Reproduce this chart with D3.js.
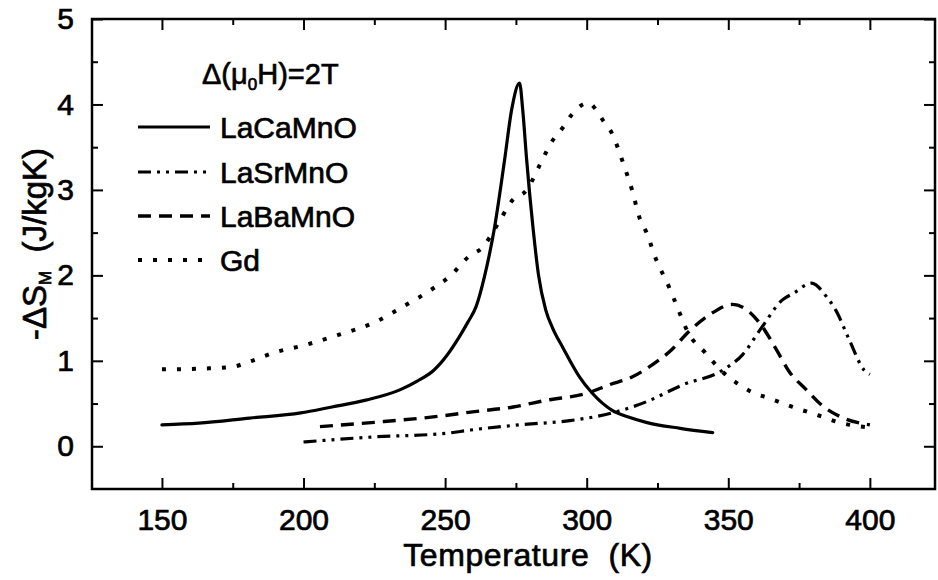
<!DOCTYPE html>
<html><head><meta charset="utf-8">
<script src="https://cdn.jsdelivr.net/npm/d3@7"></script>
<style>
html,body{margin:0;padding:0;background:#fff;}
text{font-family:"Liberation Sans",Arial,sans-serif;fill:#000;stroke:#000;stroke-width:0.7px;}
</style></head>
<body><svg id="chart" width="938" height="580"></svg>
<script>
const xTicks = [150, 200, 250, 300, 350, 400];
const yTicks = [0, 1, 2, 3, 4, 5];
const seriesNames = ["LaCaMnO", "LaSrMnO", "LaBaMnO", "Gd"];
const laCaT = [150,163,181,199,210,222,234,240,246,251,255,258,261,264,267.5,271,273.5,276.3,277.4,278.8,281,283,285.5,288,291.5,297.5,302,309,315,321,333,344.5];
const laCaS = [0.25,0.27,0.33,0.39,0.46,0.54,0.66,0.76,0.89,1.08,1.28,1.45,1.64,2.0,2.57,3.35,3.94,4.25,3.94,3.35,2.57,2.0,1.6,1.38,1.16,0.81,0.62,0.42,0.34,0.28,0.21,0.16];
const laSrT = [200,225,250,259,276,294,309,321,334,348,355,362,369,373,379.4,384.7,388,392.8,398,400];
const laSrS = [0.05,0.11,0.15,0.19,0.25,0.30,0.39,0.52,0.72,0.89,1.07,1.40,1.71,1.79,1.91,1.75,1.59,1.24,0.89,0.84];
const laBaT = [205.8,225,250,259,274,286,300,308,316,323,330,336,343.4,351.5,357.5,362,367,371.6,377.6,383,390,400];
const laBaS = [0.23,0.28,0.36,0.40,0.46,0.54,0.62,0.72,0.81,0.95,1.13,1.34,1.54,1.66,1.57,1.40,1.13,0.87,0.66,0.48,0.34,0.25];
const gdT = [150,165,175,180,190,200,212,225,237,245,252,258.7,263,268.6,273.8,278.8,283.4,287.6,291.6,294.7,298.6,300.5,302.8,306,308.8,312.7,316,318.7,321,324.6,329,331,336,342,348,353,358.6,364.6,372.7,382,389,400];
const gdS = [0.90,0.91,0.93,0.98,1.10,1.18,1.30,1.45,1.67,1.83,2.0,2.23,2.32,2.6,2.88,3.0,3.29,3.56,3.73,3.88,4.0,4.02,3.96,3.8,3.67,3.33,3.0,2.67,2.51,2.18,1.87,1.71,1.32,1.09,0.87,0.74,0.63,0.56,0.46,0.36,0.28,0.22];

const svg = d3.select("#chart");
const L = 92, T = 19, R = 935, B = 489;
const x = d3.scaleLinear().domain([125.3, 423]).range([L, R]);
const y = d3.scaleLinear().domain([-0.5, 5]).range([B, T]);

const styles = [
  {w:3.2, dash:null, cap:"round"},
  {w:3.2, dash:"13,6,3,6,3,6", cap:"butt"},
  {w:3.4, dash:"13,8", cap:"butt"},
  {w:4, dash:"4,11", cap:"butt"}
];
const data = [
  laCaT.map((t,i)=>[t,laCaS[i]]),
  laSrT.map((t,i)=>[t,laSrS[i]]),
  laBaT.map((t,i)=>[t,laBaS[i]]),
  gdT.map((t,i)=>[t,gdS[i]])
];
const line = d3.line().x(d=>x(d[0])).y(d=>y(d[1])).curve(d3.curveMonotoneX);
data.forEach((d,i)=>{
  svg.append("path").attr("d", line(d)).attr("fill","none").attr("stroke","#000")
    .attr("stroke-width", styles[i].w).attr("stroke-dasharray", styles[i].dash)
    .attr("stroke-linecap", styles[i].cap).attr("stroke-linejoin","round");
});

// axes with inner ticks
const xMinor = d3.range(125, 424, 25).filter(v=>v>125.3 && v<423 && xTicks.indexOf(v)<0);
const yMinor = d3.range(-0.5, 5, 1).filter(v=>v>-0.5);
const fmt = d3.format("d");
const gB = svg.append("g").attr("transform",`translate(0,${B})`)
  .call(d3.axisBottom(x).tickValues(xTicks).tickSizeInner(-11).tickSizeOuter(0).tickPadding(20).tickFormat(fmt));
gB.selectAll("text").attr("font-size",30).attr("dy","0.71em");
svg.append("g").attr("transform",`translate(0,${B})`)
  .call(d3.axisBottom(x).tickValues(xMinor).tickSizeInner(-6).tickSizeOuter(0).tickFormat(""));
svg.append("g").attr("transform",`translate(0,${T})`)
  .call(d3.axisTop(x).tickValues(xTicks).tickSizeInner(-11).tickSizeOuter(0).tickFormat(""));
svg.append("g").attr("transform",`translate(0,${T})`)
  .call(d3.axisTop(x).tickValues(xMinor).tickSizeInner(-6).tickSizeOuter(0).tickFormat(""));
const gL = svg.append("g").attr("transform",`translate(${L},0)`)
  .call(d3.axisLeft(y).tickValues(yTicks).tickSizeInner(-11).tickSizeOuter(0).tickPadding(18).tickFormat(fmt));
gL.selectAll("text").attr("font-size",30);
svg.append("g").attr("transform",`translate(${L},0)`)
  .call(d3.axisLeft(y).tickValues(yMinor).tickSizeInner(-6).tickSizeOuter(0).tickFormat(""));
svg.append("g").attr("transform",`translate(${R},0)`)
  .call(d3.axisRight(y).tickValues(yTicks).tickSizeInner(-11).tickSizeOuter(0).tickFormat(""));
svg.append("g").attr("transform",`translate(${R},0)`)
  .call(d3.axisRight(y).tickValues(yMinor).tickSizeInner(-6).tickSizeOuter(0).tickFormat(""));
svg.selectAll(".domain").remove();
svg.selectAll(".tick line").attr("stroke","#000").attr("stroke-width",2);
svg.selectAll(".tick text").attr("fill","#000");
svg.append("rect").attr("x",L).attr("y",T).attr("width",R-L).attr("height",B-T)
  .attr("fill","none").attr("stroke","#000").attr("stroke-width",2.5);

// axis titles
svg.append("text").attr("x",528).attr("y",566).attr("text-anchor","middle")
  .attr("font-size",32).attr("letter-spacing",0.6).attr("xml:space","preserve").text("Temperature  (K)");
const yl = svg.append("text").attr("transform","translate(46,244) rotate(-90)")
  .attr("text-anchor","middle").attr("font-size",33).attr("xml:space","preserve");
yl.append("tspan").text("-ΔS");
yl.append("tspan").attr("font-size",17).attr("dy",5).text("M");
yl.append("tspan").attr("dy",-5).text("  (J/kgK)");

// legend
const lt = svg.append("text").attr("x",202).attr("y",84).attr("font-size",29);
lt.append("tspan").text("Δ(μ");
lt.append("tspan").attr("font-size",17).attr("dy",6).text("0");
lt.append("tspan").attr("dy",-6).text("H)=2T");
const rows = [127, 172, 216, 260];
seriesNames.forEach((n,i)=>{
  svg.append("line").attr("x1",138).attr("x2",210).attr("y1",rows[i]).attr("y2",rows[i])
    .attr("stroke","#000").attr("stroke-width",styles[i].w).attr("stroke-dasharray",styles[i].dash);
  svg.append("text").attr("x",220).attr("y",rows[i]).attr("dy","0.36em").attr("font-size",30).text(n);
});
</script></body></html>
